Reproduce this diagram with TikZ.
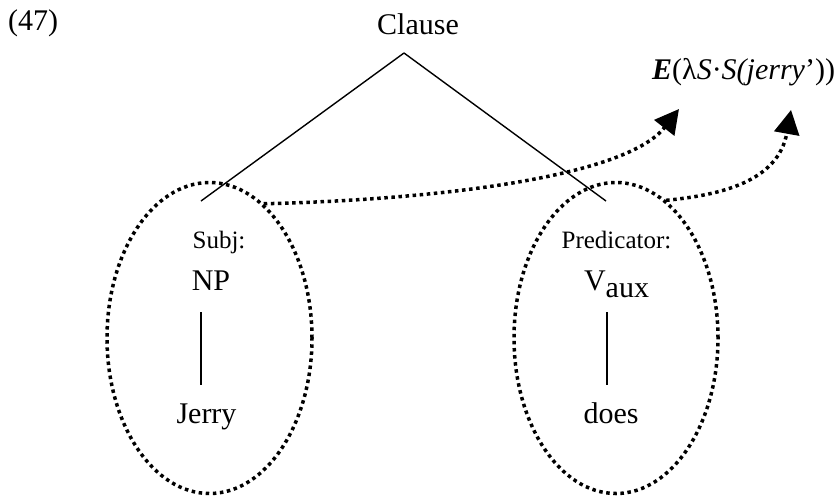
\documentclass[tikz,border=0pt]{standalone}
\usepackage{fontspec}
\setmainfont{Liberation Serif}
\usetikzlibrary{arrows.meta,shapes.geometric}
\begin{document}
\begin{tikzpicture}[x=1pt,y=-1pt,
  big/.style={font=\fontsize{30}{36}\selectfont, inner sep=0pt},
  small/.style={font=\fontsize{25}{30}\selectfont, inner sep=0pt},
  tree/.style={line width=1.4pt},
  dots/.style={line width=3.5pt, dash pattern=on 3.5pt off 3.6pt},
  oval/.style={ellipse, draw, dots, inner sep=0pt},
  dotarrow/.style={dots, -{Triangle[length=24pt,width=25pt]}}]
\useasboundingbox (0,0) rectangle (837,496);
% texts
\node[big, anchor=base west] (num) at (8,30) {(47)};
\node[big, anchor=base] (clause) at (418,34) {Clause};
\node[small, anchor=base] (subj) at (219,248) {Subj:};
\node[big, anchor=base] (np) at (211,290) {NP};
\node[big, anchor=base] (jerry) at (206.5,423) {Jerry};
\node[small, anchor=base] (pred) at (616.5,248) {Predicator:};
\node[big, anchor=base] (vaux) at (616.5,290) {V\raisebox{-7pt}{aux}};
\node[big, anchor=base] (does) at (611,423) {does};
\node[big, anchor=base west] (sem) at (652,79)
  {\textbf{\textit{E}}(λ\textit{S}·\textit{S(jerry}'))};
% ellipses
\node[oval, minimum width=205pt, minimum height=311pt] (lell) at (209.5,338) {};
\node[oval, minimum width=204pt, minimum height=311pt] (rell) at (616,338) {};
% tree lines
\coordinate (apex) at (404,53);
\coordinate (lend) at (201,201);
\coordinate (rend) at (606,201);
\draw[tree] (apex) -- (lend);
\draw[tree] (apex) -- (rend);
\coordinate (ltop) at (201,312);
\coordinate (lbot) at (201,385);
\coordinate (rtop) at (607,312);
\coordinate (rbot) at (607,385);
\draw[tree] (ltop) -- (lbot);
\draw[tree] (rtop) -- (rbot);
% arrows
\coordinate (tip1) at (679,109);
\coordinate (tip2) at (791,110);
\draw[dotarrow] (lell.68) .. controls (430,200) and (625,178) .. (tip1);
\draw[dotarrow] (rell.70) .. controls (720,195) and (778,182) .. (tip2);
\end{tikzpicture}
\end{document}
